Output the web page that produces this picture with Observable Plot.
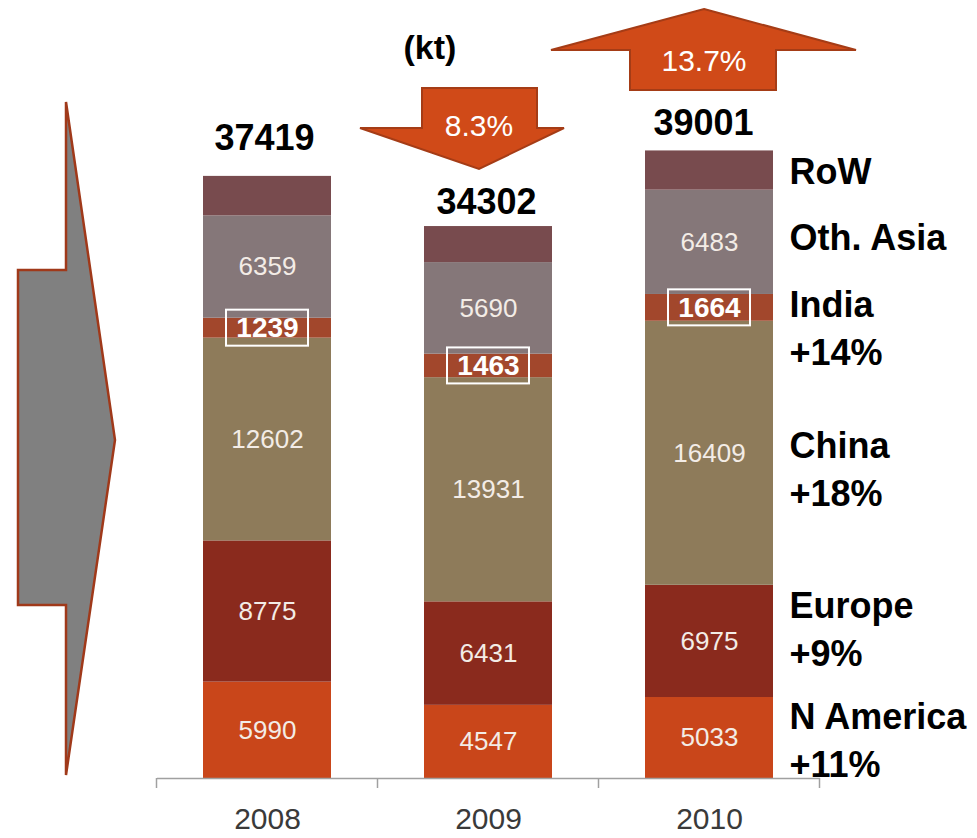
<!DOCTYPE html>
<html>
<head>
<meta charset="utf-8">
<script src="https://cdn.jsdelivr.net/npm/d3@7"></script>
<script src="https://cdn.jsdelivr.net/npm/@observablehq/plot@0.6"></script>
<style>
  body { margin: 0; background: #fff; }
  #chart { width: 977px; height: 838px; }
</style>
</head>
<body>
<div id="chart"></div>
<script>
// ---- data ----
const years = ["2008", "2009", "2010"];
const regions = ["N America", "Europe", "China", "India", "Oth. Asia", "RoW"];
const totals = [37419, 34302, 39001];
const nAmerica = [5990, 4547, 5033];
const europe = [8775, 6431, 6975];
const china = [12602, 13931, 16409];
const india = [1239, 1463, 1664];
const othAsia = [6359, 5690, 6483];
const growth = ["+11%", "+9%", "+18%", "+14%", "", ""];
const changePct = ["8.3%", "13.7%"];
const unitLabel = "(kt)";

// RoW is the remainder of the total
const rowRest = totals.map((t, i) => t - nAmerica[i] - europe[i] - china[i] - india[i] - othAsia[i]);
const series = [nAmerica, europe, china, india, othAsia, rowRest];

const rows = [];
years.forEach((yr, i) => regions.forEach((r, j) => rows.push({year: yr, region: r, value: series[j][i]})));
const totalRows = years.map((yr, i) => ({year: yr, total: totals[i]}));

// ---- styles ----
const colors = ["#c9461a", "#8a2a1d", "#8e7b5a", "#a2472c", "#857779", "#784b4e"];
const font = "'Liberation Sans', Arial, sans-serif";
const totalDy = [-38, -24, -27];
const totalDx = [-3, -2, -6];
const labelDy = {"N America": 0, "Europe": -15, "China": 13, "India": 18, "Oth. Asia": -8, "RoW": -2};

const stackOpts = (extra) => Plot.stackY({x: "year", y: "value", z: "region", ...extra});

const plot = Plot.plot({
  width: 977,
  height: 838,
  marginLeft: 157,
  marginRight: 157,
  marginTop: 0,
  marginBottom: 60,
  x: {domain: years, paddingInner: 0.42, paddingOuter: 0.21, label: null},
  y: {domain: [0, 48350], axis: null},
  color: {domain: regions, range: colors},
  style: {fontFamily: font, background: "white", overflow: "visible"},
  marks: [
    Plot.barY(rows, {x: "year", y: "value", fill: "region", z: "region"}),
    Plot.ruleY([0], {stroke: "#a0a0a0", strokeWidth: 1.5}),
    Plot.axisX({tickSize: 0, tickPadding: 29, fontSize: 30, color: "#3a3a3a", label: null}),
    // value labels inside segments
    Plot.text(rows, stackOpts({
      text: d => (d.region === "RoW" || d.region === "India") ? "" : String(d.value),
      fill: "#f3ece6", fontSize: 26
    })),
    Plot.text(rows, stackOpts({
      text: d => d.region === "India" ? String(d.value) : "",
      fill: "#ffffff", fontSize: 28, fontWeight: "bold"
    })),
    // totals
    ...years.map((yr, i) => Plot.text(totalRows.filter(d => d.year === yr), {
      x: "year", y: "total", text: d => String(d.total),
      fontSize: 36, fontWeight: "bold", fill: "#000", dy: totalDy[i], dx: totalDx[i]
    })),
    // right-hand region labels (next to 2010 bar)
    ...regions.map((r, j) => Plot.text(rows, stackOpts({
      text: d => (d.year === "2010" && d.region === r) ? (growth[j] ? r + "\n" + growth[j] : r) : "",
      textAnchor: "start", dx: 80, dy: labelDy[r],
      fontSize: 36, fontWeight: "bold", fill: "#000", lineHeight: 1.33
    })))
  ]
});

document.getElementById("chart").appendChild(plot);

// ---- decorations positioned with the plot's scales ----
const xs = plot.scale("x");
const ys = plot.scale("y");
const bw = xs.bandwidth, step = xs.step;
const cx = yr => xs.apply(yr) + bw / 2;
const y0 = ys.apply(0);
const svg = d3.select(plot);
const g = svg.append("g");

// axis ticks at band boundaries
const firstEdge = xs.apply(years[0]) - (step - bw) / 2;
d3.range(years.length + 1).forEach(k => {
  const x = firstEdge + k * step;
  g.append("line").attr("x1", x).attr("x2", x).attr("y1", y0).attr("y2", y0 + 10)
    .attr("stroke", "#a0a0a0").attr("stroke-width", 1.5);
});

// white boxes around India values
years.forEach((yr, i) => {
  const mid = nAmerica[i] + europe[i] + china[i] + india[i] / 2;
  const ym = ys.apply(mid);
  g.append("rect").attr("x", cx(yr) - 41).attr("y", ym - 18).attr("width", 82).attr("height", 36)
    .attr("fill", "none").attr("stroke", "#ffffff").attr("stroke-width", 2);
});

// unit label
g.append("text").attr("x", cx("2009") - 58).attr("y", 47).attr("dy", "0.35em")
  .attr("text-anchor", "middle").attr("font-family", font).attr("font-weight", "bold")
  .attr("font-size", 34).text(unitLabel);

const arrowFill = "#d04a18", arrowStroke = "#a53c16";
// down arrow (2008 -> 2009)
{
  const c = cx("2009") - 9;
  const pts = [[c - 57, 88], [c + 58, 88], [c + 58, 128], [c + 85, 128], [c, 169], [c - 119, 128], [c - 57, 128]];
  g.append("path").attr("d", "M" + pts.join("L") + "Z").attr("fill", arrowFill).attr("stroke", arrowStroke).attr("stroke-width", 2);
  g.append("text").attr("x", c).attr("y", 125).attr("dy", "0.35em").attr("text-anchor", "middle")
    .attr("font-family", font).attr("font-size", 30).attr("fill", "#fff").text(changePct[0]);
}
// up arrow (2009 -> 2010)
{
  const c = cx("2010") - 5;
  const pts = [[c, 9], [c + 152, 50], [c + 72, 50], [c + 72, 90], [c - 74, 90], [c - 74, 50], [c - 153, 50]];
  g.append("path").attr("d", "M" + pts.join("L") + "Z").attr("fill", arrowFill).attr("stroke", arrowStroke).attr("stroke-width", 2);
  g.append("text").attr("x", c).attr("y", 60).attr("dy", "0.35em").attr("text-anchor", "middle")
    .attr("font-family", font).attr("font-size", 30).attr("fill", "#fff").text(changePct[1]);
}
// left grey chevron arrow
{
  const pts = [[18, 270], [66, 270], [66, 102], [115, 440], [66, 775], [66, 605], [18, 605]];
  g.append("path").attr("d", "M" + pts.join("L") + "Z").attr("fill", "#808080").attr("stroke", "#a0391a").attr("stroke-width", 2.5);
}
</script>
</body>
</html>
